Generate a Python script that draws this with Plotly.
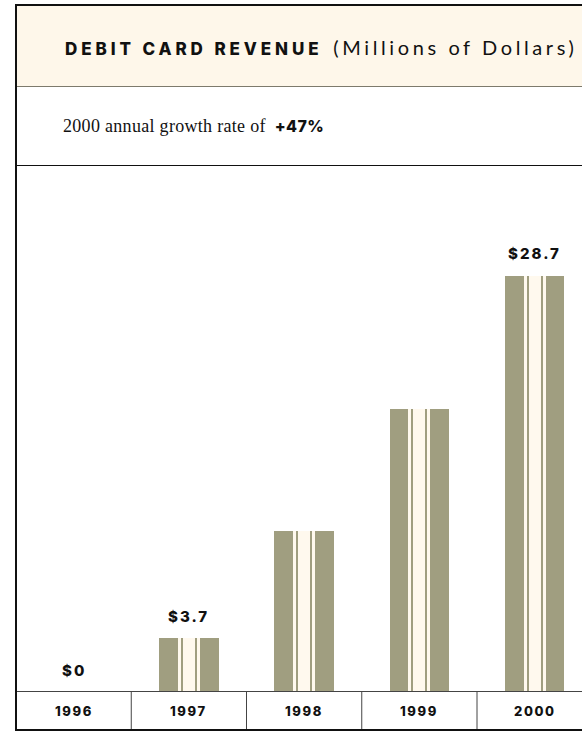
import plotly.graph_objects as go

# Debit card revenue, millions of dollars
years = ["1996", "1997", "1998", "1999", "2000"]
revenue = [0, 3.7, 11.1, 19.5, 28.7]
labelled = [True, True, False, False, True]

W, H = 582, 732
OLIVE = "#a09e80"
CREAM = "#fef7ea"
STRIPE = "#fff9ee"
INK = "#111111"
HEAVY = "Inter"

# pixel geometry of the plotting frame
PX_PER_CAT = 115.25
PX_PER_UNIT = 14.495
BASE_PX = 692
LEFT_PX = 16

x_idx = list(range(len(years)))
x_lo = -0.5 - LEFT_PX / PX_PER_CAT
x_hi = x_lo + W / PX_PER_CAT
y_lo = -(H - BASE_PX) / PX_PER_UNIT
y_hi = BASE_PX / PX_PER_UNIT


def cat(px):
    return px / PX_PER_CAT


def px_x(p):
    return p / W


def px_y(p):
    return 1 - p / H


fig = go.Figure()

# main column
fig.add_bar(x=x_idx, y=revenue, width=cat(59.5), marker=dict(color=OLIVE, line=dict(width=0)),
            hoverinfo="skip")
# cream centre band
fig.add_bar(x=x_idx, y=revenue, width=cat(22), marker=dict(color=STRIPE, line=dict(width=0)),
            hoverinfo="skip")
# two thin pinstripes inside the band
for off in (-8, 6):
    fig.add_bar(x=x_idx, y=revenue, width=cat(2), offset=cat(off),
                marker=dict(color=OLIVE, line=dict(width=0)), hoverinfo="skip")

shapes = []
# header band
shapes.append(dict(type="rect", xref="paper", yref="paper", x0=px_x(16), x1=1.0,
                   y0=px_y(86), y1=px_y(5), fillcolor=CREAM, line=dict(width=0), layer="below"))
# rules
shapes.append(dict(type="line", xref="paper", yref="paper", x0=px_x(16), x1=1.0,
                   y0=px_y(86.5), y1=px_y(86.5), line=dict(color="#7d7a6c", width=1)))
shapes.append(dict(type="line", xref="paper", yref="paper", x0=px_x(16), x1=1.0,
                   y0=px_y(165.5), y1=px_y(165.5), line=dict(color=INK, width=1)))
shapes.append(dict(type="line", xref="paper", yref="paper", x0=px_x(16), x1=1.0,
                   y0=px_y(691.5), y1=px_y(691.5), line=dict(color="#444444", width=1)))
# column separators in the year row
for i in x_idx[:-1]:
    shapes.append(dict(type="line", xref="x", yref="paper", x0=i + 0.5, x1=i + 0.5,
                       y0=px_y(729), y1=px_y(692), line=dict(color="#444444", width=1)))
# outer frame
shapes.append(dict(type="line", xref="paper", yref="paper", x0=px_x(15), x1=1.0,
                   y0=px_y(5), y1=px_y(5), line=dict(color=INK, width=2)))
shapes.append(dict(type="line", xref="paper", yref="paper", x0=px_x(16), x1=px_x(16),
                   y0=px_y(731), y1=px_y(4), line=dict(color=INK, width=2)))
shapes.append(dict(type="line", xref="paper", yref="paper", x0=px_x(15), x1=1.0,
                   y0=px_y(730), y1=px_y(730), line=dict(color=INK, width=2)))

annotations = []
annotations.append(dict(
    xref="paper", yref="paper", x=px_x(63), y=px_y(47), xanchor="left", yanchor="middle",
    showarrow=False,
    text=('<span style="letter-spacing:3.9px;font-weight:800">DEBIT CARD REVENUE</span>'
          '<span style="letter-spacing:6px"> </span>'
          '<span style="letter-spacing:3.6px;font-family:Lato;font-size:20px;font-weight:400">(Millions of Dollars)</span>'),
    font=dict(family=HEAVY, size=17, color=INK),
))

growth = round((revenue[-1] / revenue[-2] - 1) * 100)
annotations.append(dict(
    xref="paper", yref="paper", x=px_x(61), y=px_y(126), xanchor="left", yanchor="middle",
    showarrow=False,
    text=(f'<span style="letter-spacing:0.3px">{years[-1]} annual growth rate of</span>  '
          f'<span style="font-family:{HEAVY};font-weight:800;font-size:16px;letter-spacing:0.4px">+{growth}%</span>'),
    font=dict(family="Liberation Serif", size=18, color=INK),
))

for i, (yr, v, show) in enumerate(zip(years, revenue, labelled)):
    annotations.append(dict(
        xref="x", yref="paper", x=i, y=px_y(711), xanchor="center", yanchor="middle",
        showarrow=False, text=f'<span style="letter-spacing:1.6px">{yr}</span>',
        font=dict(family=HEAVY, size=13, color=INK, weight=800),
    ))
    if show:
        txt = f"${v:g}"
        annotations.append(dict(
            xref="x", yref="y", x=i, y=v, yshift=22, xanchor="center", yanchor="middle",
            showarrow=False, text=f'<span style="letter-spacing:2px">{txt}</span>',
            font=dict(family=HEAVY, size=15, color=INK, weight=800),
        ))

fig.update_layout(
    width=W, height=H,
    margin=dict(l=0, r=0, t=0, b=0),
    paper_bgcolor="white", plot_bgcolor="rgba(0,0,0,0)",
    barmode="overlay", bargap=0, showlegend=False,
    xaxis=dict(range=[x_lo, x_hi], visible=False, fixedrange=True),
    yaxis=dict(range=[y_lo, y_hi], visible=False, fixedrange=True),
    shapes=shapes, annotations=annotations,
)

fig.write_html("out.html", config={"displayModeBar": False})
